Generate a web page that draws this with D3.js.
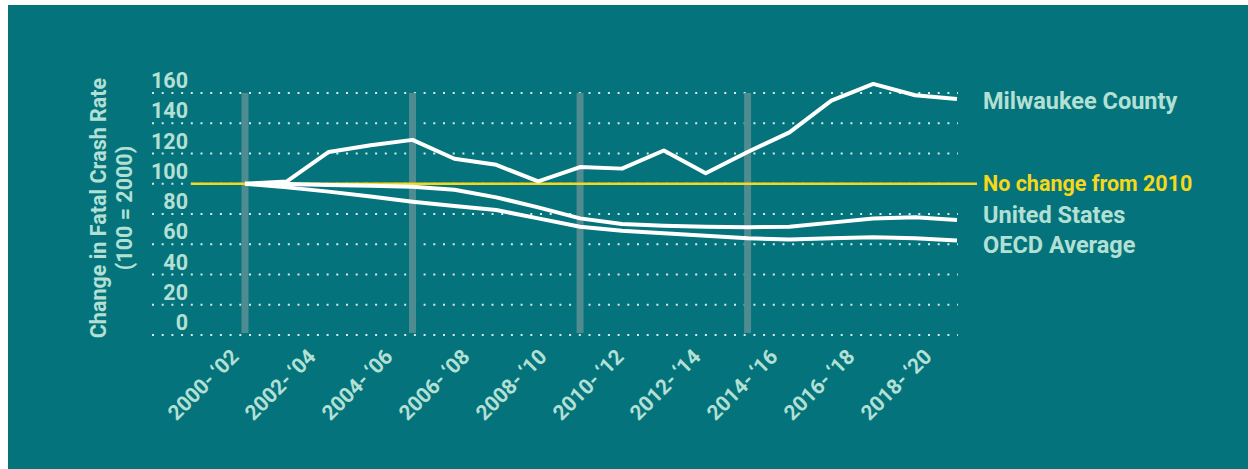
<!DOCTYPE html>
<html>
<head>
<meta charset="utf-8">
<script src="https://cdn.jsdelivr.net/npm/d3@7"></script>
<style>
  body { margin: 0; background: #ffffff; }
  svg text { font-family: Roboto, "Open Sans", sans-serif; }
</style>
</head>
<body>
<div id="chart"></div>
<script>
// Chart size
const width = 1248;
const height = 469;

// Data: one point per period, values indexed to 100 = 2000
const periods = ["p00", "p01", "p02", "p03", "p04", "p05", "p06", "p07", "p08",
                 "p09", "p10", "p11", "p12", "p13", "p14", "p15", "p16", "p17"];
const milwaukee = [100, 101.5, 121, 125.5, 129, 116.5, 112.5, 101.5, 111,
                   110, 122, 107, 121, 134, 155, 166, 158.5, 156];
const unitedStates = [100, 99.8, 99.2, 98.7, 98, 96, 91, 84.4, 77.1,
                      73.4, 72.3, 71.6, 71.2, 71.6, 74.3, 77.1, 77.8, 76];
const oecd = [100, 97.6, 94.8, 91.5, 88.1, 85.3, 82.6, 77.1, 71.6,
              69, 67.2, 65.7, 63.9, 63.2, 63.9, 64.6, 63.9, 62.4];
const xLabels = ["2000-\u2009\u201802", "2002-\u2009\u201804", "2004-\u2009\u201806", "2006-\u2009\u201808", "2008-\u2009\u201810",
                 "2010-\u2009\u201812", "2012-\u2009\u201814", "2014-\u2009\u201816", "2016-\u2009\u201818", "2018-\u2009\u201820"];
const yTicks = [0, 20, 40, 60, 80, 100, 120, 140, 160];
const markerPeriods = ["p00", "p04", "p08", "p12"];
const baseline = 100;

const series = [
    { name: "Milwaukee County", values: milwaukee, labelY: 101 },
    { name: "United States", values: unitedStates, labelY: 215 },
    { name: "OECD Average", values: oecd, labelY: 245 }
];

// Colours
const bg = "#05737b";
const mint = "#b3e0d5";
const yellow = "#f5d81c";

const svg = d3.select("#chart")
    .append("svg")
    .attr("width", width)
    .attr("height", height);

// Teal panel
svg.append("rect")
    .attr("x", 8)
    .attr("y", 5)
    .attr("width", width - 8)
    .attr("height", height - 5)
    .attr("fill", bg);

// Scales
const x = d3.scalePoint().domain(periods).range([245, 957]);
const xl = d3.scalePoint().domain(xLabels).range([240, 933]);
const y = d3.scaleLinear().domain([0, 160]).range([335, 93]);

// Dotted grid lines
svg.append("g")
    .selectAll("line")
    .data(yTicks)
    .enter().append("line")
    .attr("x1", 152)
    .attr("x2", 958)
    .attr("y1", d => y(d))
    .attr("y2", d => y(d))
    .attr("stroke", "#d6ece8")
    .attr("stroke-width", 2)
    .attr("stroke-dasharray", "2 7.7");

// Y tick labels (sit just above each grid line)
svg.append("g")
    .selectAll("text")
    .data(yTicks)
    .enter().append("text")
    .attr("x", 188)
    .attr("y", d => y(d) - 5)
    .attr("text-anchor", "end")
    .attr("fill", mint)
    .attr("font-size", 21.5)
    .attr("font-weight", 700)
    .text(d => d);

// Y axis title
const yTitle = svg.append("text")
    .attr("transform", "translate(106,208) rotate(-90)")
    .attr("text-anchor", "middle")
    .attr("fill", mint)
    .attr("font-size", 21.5)
    .attr("font-weight", 700);
yTitle.append("tspan").attr("x", 0).attr("dy", 0).text("Change in Fatal Crash Rate");
yTitle.append("tspan").attr("x", 0).attr("dy", 26).text("(100 = 2000)");

// Grey vertical markers
svg.append("g")
    .selectAll("rect")
    .data(markerPeriods)
    .enter().append("rect")
    .attr("x", d => x(d) - 3.5)
    .attr("y", y(160))
    .attr("width", 7)
    .attr("height", y(0) - y(160) - 2)
    .attr("fill", "#4f8c91");

// No-change reference line
svg.append("line")
    .attr("x1", 191)
    .attr("x2", 977)
    .attr("y1", y(baseline))
    .attr("y2", y(baseline))
    .attr("stroke", yellow)
    .attr("stroke-width", 2.5);

svg.append("text")
    .attr("x", 983)
    .attr("y", y(baseline) + 7.5)
    .attr("fill", yellow)
    .attr("font-size", 21.5)
    .attr("font-weight", 700)
    .text("No change from 2010");

// Series lines
const line = d3.line()
    .x((d, i) => x(periods[i]))
    .y(d => y(d));

svg.append("g")
    .selectAll("path")
    .data(series)
    .enter().append("path")
    .attr("d", d => line(d.values))
    .attr("fill", "none")
    .attr("stroke", "#ffffff")
    .attr("stroke-width", 4)
    .attr("stroke-linejoin", "round");

// Series labels
svg.append("g")
    .selectAll("text")
    .data(series)
    .enter().append("text")
    .attr("x", 983)
    .attr("y", d => d.labelY + 8)
    .attr("fill", mint)
    .attr("font-size", 23.5)
    .attr("font-weight", 700)
    .text(d => d.name);

// X labels, rotated
svg.append("g")
    .selectAll("text")
    .data(xLabels)
    .enter().append("text")
    .attr("transform", d => `translate(${xl(d)},358) rotate(-45)`)
    .attr("text-anchor", "end")
    .attr("fill", mint)
    .attr("font-size", 21)
    .attr("font-weight", 700)
    .text(d => d);
</script>
</body>
</html>
